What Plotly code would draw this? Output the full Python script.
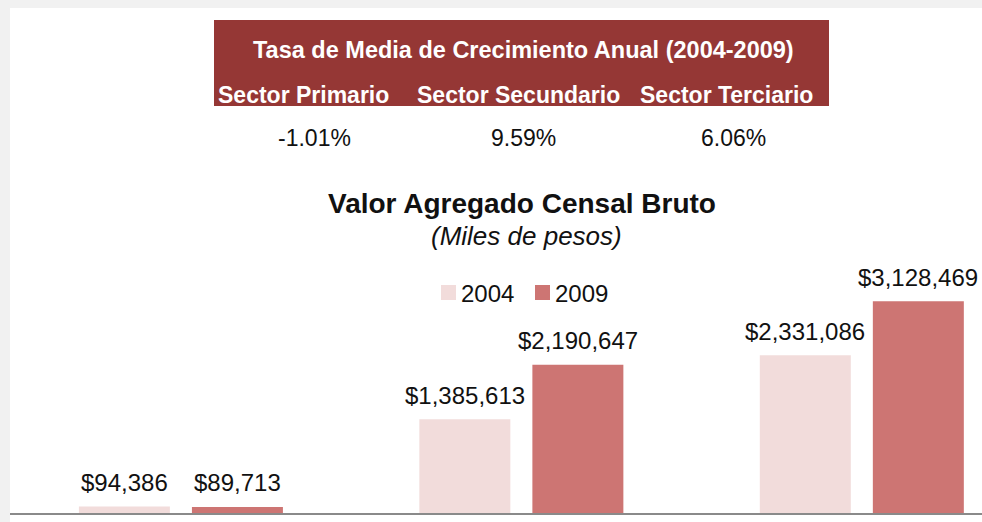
import plotly.graph_objects as go

# --- data ---------------------------------------------------------------
sectors = ["Sector Primario", "Sector Secundario", "Sector Terciario"]
years = ["2004", "2009"]
valor_2004 = [94386, 1385613, 2331086]
valor_2009 = [89713, 2190647, 3128469]
tasa_crecimiento = [-1.01, 9.59, 6.06]  # % anual 2004-2009

title = "Valor Agregado Censal Bruto"
subtitle = "(Miles de pesos)"
table_header = "Tasa de Media de Crecimiento Anual (2004-2009)"

# --- styling ------------------------------------------------------------
W, H = 982, 522
ML, MR, MT, MB = 10, 0, 168, 9
PW, PH = W - ML - MR, H - MT - MB
FONT = "Liberation Sans, Arial, sans-serif"
colors = ["#F2DCDB", "#CD7573"]
band = "#953735"


def px(x):
    return (x - ML) / PW


def py(y):
    return (H - MB - y) / PH


def label(x, y, text, size, color="#111111", xanchor="center"):
    fig.add_annotation(x=px(x), y=py(y), xref="paper", yref="paper",
                       text=text, showarrow=False,
                       xanchor=xanchor, yanchor="middle",
                       font=dict(family=FONT, size=size, color=color))


fig = go.Figure()
series = [valor_2004, valor_2009]
for name, vals, col in zip(years, series, colors):
    fig.add_trace(go.Bar(
        x=sectors, y=vals, name=name,
        marker=dict(color=col, line=dict(width=0)),
        showlegend=False,
    ))

# value labels above each bar
half = 56.5
for vals, shift in zip(series, [-half, half]):
    for s, v in zip(sectors, vals):
        fig.add_annotation(
            x=s, y=v, xref="x", yref="y", xshift=shift, yshift=24,
            text=f"${v:,.0f}", showarrow=False,
            xanchor="center", yanchor="middle",
            font=dict(family=FONT, size=24, color="#111111"),
        )

shapes = []
# grey frame and white card
shapes.append(dict(type="rect", xref="paper", yref="paper",
                   x0=px(0), x1=px(W), y0=py(H), y1=py(0),
                   fillcolor="#f1f1f1", line=dict(width=0), layer="below"))
shapes.append(dict(type="rect", xref="paper", yref="paper",
                   x0=px(10), x1=px(W), y0=py(H), y1=py(8),
                   fillcolor="#ffffff", line=dict(width=0), layer="below"))
# header band of the growth table
shapes.append(dict(type="rect", xref="paper", yref="paper",
                   x0=px(214), x1=px(829), y0=py(106), y1=py(20),
                   fillcolor=band, line=dict(width=0), layer="below"))

# growth table
label(523.5, 50, f"<b>{table_header}</b>", 23.5, "white")
name_x = [303, 518, 726]
pct_x = [314, 523, 733]
for s, xn, xp, t in zip(sectors, name_x, pct_x, tasa_crecimiento):
    label(xn, 95, f"<b>{s}</b>", 23, "white")
    label(xp, 138, f"{t:.2f}%", 23)

# chart title
label(522, 203, f"<b>{title}</b>", 28)
label(526, 236, f"<i>{subtitle}</i>", 26)

# legend
for name, col, sx in zip(years, colors, [441, 535]):
    shapes.append(dict(type="rect", xref="paper", yref="paper",
                       x0=px(sx), x1=px(sx + 15), y0=py(300), y1=py(285),
                       fillcolor=col, line=dict(width=0)))
    label(sx + 18, 293, name, 24, xanchor="left")

fig.update_layout(
    width=W, height=H,
    margin=dict(l=ML, r=MR, t=MT, b=MB, pad=0),
    paper_bgcolor="#ffffff", plot_bgcolor="rgba(0,0,0,0)",
    barmode="group", bargap=0.336, bargroupgap=0.195,
    shapes=shapes,
    xaxis=dict(range=[-0.502, 2.353], showticklabels=False, ticks="",
               showgrid=False, zeroline=False, showline=True,
               linecolor="#8a8a8a", linewidth=2, fixedrange=True),
    yaxis=dict(range=[0, 5.1e6], visible=False, showgrid=False,
               zeroline=False, fixedrange=True),
)

fig.write_html("out.html")
